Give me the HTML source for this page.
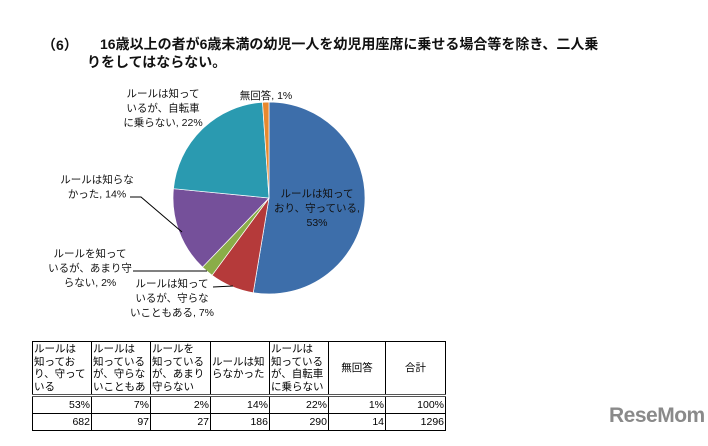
<!DOCTYPE html>
<html><head><meta charset="utf-8"><style>
body{margin:0;width:708px;height:446px;background:#fff;position:relative;overflow:hidden;font-family:"Liberation Sans","Noto Sans CJK JP",sans-serif;}
.t{position:absolute;font-size:14px;font-weight:bold;color:#111;}
svg{position:absolute;left:0;top:0}
table{position:absolute;left:32px;top:341px;border-collapse:collapse;font-size:10.5px;font-family:"Liberation Sans","Noto Sans CJK JP",sans-serif;table-layout:fixed;width:413px;}
td{border:1px solid #000;padding:0 1px;line-height:12.5px;overflow:hidden;white-space:nowrap;}
tr.h td{height:52px;vertical-align:middle;}
tr.h{border-bottom:3px double #555;}
tr.v td{height:16px;text-align:right;}
.wm{position:absolute;left:609px;top:404px;font-size:21px;font-weight:bold;color:#8a8a8a;letter-spacing:-0.5px;}
</style></head><body>
<div class="t" style="left:42px;top:35px">（6）</div>
<div class="t" style="left:100px;top:35px;width:600px;line-height:18px">16歳以上の者が6歳未満の幼児一人を幼児用座席に乗せる場合等を除き、二人乗<br><span style="margin-left:-13px">りをしてはならない。</span></div>
<svg id="chart" width="708" height="446"></svg>
<table>
<colgroup><col style="width:59px"><col style="width:59px"><col style="width:60px"><col style="width:59px"><col style="width:59px"><col style="width:57px"><col style="width:60px"></colgroup>
<tr class="h"><td>ルールは<br>知ってお<br>り、守って<br>いる</td><td>ルールは<br>知っている<br>が、守らな<br>いこともあ</td><td>ルールを<br>知っている<br>が、あまり<br>守らない</td><td>ルールは知<br>らなかった</td><td>ルールは<br>知っている<br>が、自転車<br>に乗らない</td><td style="text-align:center">無回答</td><td style="text-align:center">合計</td></tr>
<tr class="v"><td>53%</td><td>7%</td><td>2%</td><td>14%</td><td>22%</td><td>1%</td><td>100%</td></tr>
<tr class="v"><td>682</td><td>97</td><td>27</td><td>186</td><td>290</td><td>14</td><td>1296</td></tr>
</table>
<div class="wm">ReseMom</div>
<script>
const categories=["ルールは知っており、守っている","ルールは知っているが、守らないこともある","ルールを知っているが、あまり守らない","ルールは知らなかった","ルールは知っているが、自転車に乗らない","無回答"];
const counts=[682,97,27,186,290,14];
const colors=["#3d6eaa","#b53a3a","#8aad48","#75509a","#2a9ab0","#e8892e"];
const svg=document.getElementById('chart');
const NS="http://www.w3.org/2000/svg";
const cx=269,cy=198,r=96;
const total=counts.reduce((a,b)=>a+b,0);
function pt(a){return [cx+r*Math.sin(a),cy-r*Math.cos(a)];}
let a0=0;
counts.forEach((v,i)=>{
 const a1=a0+v/total*2*Math.PI;
 const p0=pt(a0),p1=pt(a1);
 const p=document.createElementNS(NS,'path');
 p.setAttribute('d',`M${cx},${cy}L${p0[0]},${p0[1]}A${r},${r} 0 ${a1-a0>Math.PI?1:0} 1 ${p1[0]},${p1[1]}Z`);
 p.setAttribute('fill',colors[i]);p.setAttribute('stroke','#fff');p.setAttribute('stroke-width','0.7');
 
 
 svg.appendChild(p);a0=a1;
});
const labels=[
 {lines:["ルールは知って","おり、守っている,","53%"],x:317,y:197},
 {lines:["ルールは知って","いるが、守らな","いこともある, 7%"],x:172,y:287},
 {lines:["ルールを知って","いるが、あまり守","らない, 2%"],x:90,y:257},
 {lines:["ルールは知らな","かった, 14%"],x:97,y:183},
 {lines:["ルールは知って","いるが、自転車","に乗らない, 22%"],x:163,y:97},
 {lines:["無回答, 1%"],x:266,y:99}
];
labels.forEach((l,i)=>{
 const t=document.createElementNS(NS,'text');
 t.setAttribute('x',l.x);t.setAttribute('y',l.y);t.setAttribute('text-anchor','middle');
 t.setAttribute('font-size','10.5');t.setAttribute('fill','#111');
 t.setAttribute('font-family','"Liberation Sans","Noto Sans CJK JP",sans-serif');
 
 
 l.lines.forEach((s,j)=>{const ts=document.createElementNS(NS,'tspan');ts.setAttribute('x',l.x);ts.setAttribute('dy',j?14.5:0);ts.textContent=s;t.appendChild(ts);});
 svg.appendChild(t);
});
[["130,197 141,197 182,232"],["133,271 207,271"],["213,287 233,286"]].forEach((d,i)=>{
 const pl=document.createElementNS(NS,'polyline');
 pl.setAttribute('points',d[0]);pl.setAttribute('fill','none');pl.setAttribute('stroke','#000');pl.setAttribute('stroke-width','1');
 
 
 svg.appendChild(pl);
});
</script>
</body></html>
